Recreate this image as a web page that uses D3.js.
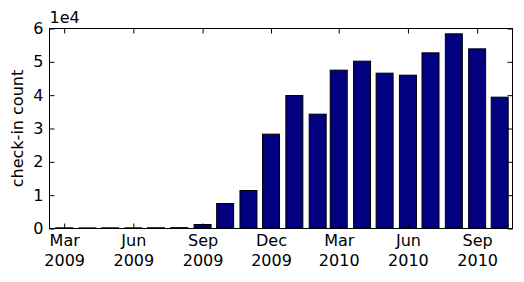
<!DOCTYPE html>
<html>
<head>
<meta charset="utf-8">
<script src="https://cdn.jsdelivr.net/npm/d3@7"></script>
<style>
  body { margin: 0; background: #fff; }
  text { font-family: "DejaVu Sans", sans-serif; }
</style>
</head>
<body>
<svg id="chart" width="524" height="282"></svg>
<script>
const months = ["2009-03", "2009-04", "2009-05", "2009-06", "2009-07", "2009-08",
    "2009-09", "2009-10", "2009-11", "2009-12", "2010-01", "2010-02",
    "2010-03", "2010-04", "2010-05", "2010-06", "2010-07", "2010-08",
    "2010-09", "2010-10"];
const checkins = [200, 180, 200, 200, 220, 250,
    1200, 7500, 11400, 28300, 39900, 34300,
    47500, 50200, 46600, 46000, 52700, 58400,
    53900, 39400];
const xTicks = ["2009-03", "2009-06", "2009-09", "2009-12", "2010-03", "2010-06", "2010-09"];
const yTicks = [0, 10000, 20000, 30000, 40000, 50000, 60000];

const svg = d3.select("#chart");
const plotLeft = 49.5, plotRight = 512.5, plotTop = 28.5, plotBottom = 228.5;
const day = 24 * 3600 * 1000;
const parse = d3.timeParse("%Y-%m");
const fmtMonth = d3.timeFormat("%b");
const fmtYear = d3.timeFormat("%Y");

const x = d3.scaleTime()
    .domain([new Date(2009, 1, 9, 12), new Date(2010, 9, 18)])
    .range([plotLeft, plotRight]);
const y = d3.scaleLinear()
    .domain([0, 60000])
    .range([plotBottom, plotTop]);

// bars
const halfBar = 11.3 * day;
svg.append("g")
    .selectAll("rect")
    .data(months)
    .join("rect")
    .attr("x", (d) => x(new Date(+parse(d) - halfBar)))
    .attr("width", (d) => x(new Date(+parse(d) + halfBar)) - x(new Date(+parse(d) - halfBar)))
    .attr("y", (d, i) => y(checkins[i]))
    .attr("height", (d, i) => y(0) - y(checkins[i]))
    .attr("fill", "#000080")
    .attr("stroke", "black")
    .attr("stroke-width", 1);

// x axis bottom
const xBottom = svg.append("g")
    .attr("transform", `translate(0,${plotBottom})`)
    .call(d3.axisBottom(x).tickValues(xTicks.map(parse)).tickSizeInner(-5).tickSizeOuter(0).tickPadding(6));
xBottom.selectAll("text").each(function(d) {
    const t = d3.select(this).text("").attr("font-size", "16px").attr("fill", "black");
    t.append("tspan").attr("x", 0).attr("dy", "0.71em").text(fmtMonth(d));
    t.append("tspan").attr("x", 0).attr("dy", "20px").text(fmtYear(d));
});

// x axis top (ticks only)
svg.append("g")
    .attr("transform", `translate(0,${plotTop})`)
    .call(d3.axisTop(x).tickValues(xTicks.map(parse)).tickSizeInner(-5).tickSizeOuter(0).tickFormat(""));

// y axis left
svg.append("g")
    .attr("transform", `translate(${plotLeft},0)`)
    .call(d3.axisLeft(y).tickValues(yTicks).tickSizeInner(-5).tickSizeOuter(0).tickPadding(6)
        .tickFormat((d) => d / 10000))
    .selectAll("text")
    .attr("font-size", "16px")
    .attr("fill", "black");

// y axis right (ticks only)
svg.append("g")
    .attr("transform", `translate(${plotRight},0)`)
    .call(d3.axisRight(y).tickValues(yTicks).tickSizeInner(-5).tickSizeOuter(0).tickFormat(""));

svg.selectAll(".domain").remove();
svg.selectAll(".tick line").attr("stroke", "black");

// frame
svg.append("rect")
    .attr("x", plotLeft)
    .attr("y", plotTop)
    .attr("width", plotRight - plotLeft)
    .attr("height", plotBottom - plotTop)
    .attr("fill", "none")
    .attr("stroke", "black")
    .attr("stroke-width", 1);

// offset label
svg.append("text")
    .attr("x", plotLeft)
    .attr("y", 23)
    .attr("font-size", "16px")
    .text("1e4");

// y label
svg.append("text")
    .attr("transform", `translate(23,${(plotTop + plotBottom) / 2}) rotate(-90)`)
    .attr("text-anchor", "middle")
    .attr("font-size", "16px")
    .text("check-in count");
</script>
</body>
</html>
